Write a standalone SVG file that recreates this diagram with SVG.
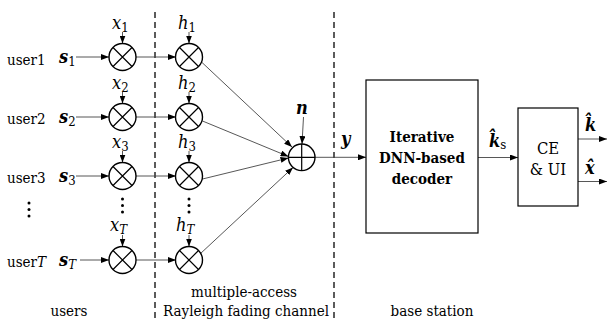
<svg xmlns="http://www.w3.org/2000/svg" width="609" height="320" viewBox="0 0 609 320">
<style>
text{font-family:"DejaVu Serif",serif;font-stretch:condensed;font-size:15px;fill:#000}
.m{font-style:italic;font-size:18px}
.b{font-weight:bold;font-style:italic;font-size:18px}
.sub{font-size:13px;font-style:normal;font-weight:normal}
.c{fill:#fff;stroke:#000;stroke-width:1.4}
.x{stroke:#000;stroke-width:1.2;fill:none}
.ln{stroke:#444;stroke-width:0.9;fill:none}
.dash{stroke:#333;stroke-width:1.6;stroke-dasharray:6,4;fill:none}
.box{fill:#fff;stroke:#000;stroke-width:1.2}
.bold{font-weight:bold}
.big{font-size:16.5px}
</style>
<defs>
<marker id="ar" viewBox="0 0 8 6" refX="8" refY="3" markerWidth="8" markerHeight="6" markerUnits="userSpaceOnUse" orient="auto">
<path d="M0,0 L8,3 L0,6 z" fill="#000"/>
</marker>
</defs>
<rect width="609" height="320" fill="#fff"/>
<g id="dividers">
<line class="dash" x1="155" y1="12" x2="155" y2="320"/>
<line class="dash" x1="334" y1="12" x2="334" y2="320"/>
</g>
<g id="connectors">
<line class="ln" x1="76" y1="57" x2="109" y2="57" marker-end="url(#ar)"/>
<line class="ln" x1="76" y1="117" x2="109" y2="117" marker-end="url(#ar)"/>
<line class="ln" x1="76" y1="176" x2="109" y2="176" marker-end="url(#ar)"/>
<line class="ln" x1="80" y1="260" x2="109" y2="260" marker-end="url(#ar)"/>
<line class="ln" x1="136" y1="57" x2="176" y2="57" marker-end="url(#ar)"/>
<line class="ln" x1="136" y1="117" x2="176" y2="117" marker-end="url(#ar)"/>
<line class="ln" x1="136" y1="176" x2="176" y2="176" marker-end="url(#ar)"/>
<line class="ln" x1="136" y1="260" x2="176" y2="260" marker-end="url(#ar)"/>
<line class="ln" x1="122.5" y1="32" x2="122.5" y2="43.5" marker-end="url(#ar)"/>
<line class="ln" x1="122.5" y1="92" x2="122.5" y2="103.5" marker-end="url(#ar)"/>
<line class="ln" x1="122.5" y1="151" x2="122.5" y2="162.5" marker-end="url(#ar)"/>
<line class="ln" x1="122.5" y1="235" x2="122.5" y2="246.5" marker-end="url(#ar)"/>
<line class="ln" x1="189" y1="32" x2="189" y2="43.5" marker-end="url(#ar)"/>
<line class="ln" x1="189" y1="92" x2="189" y2="103.5" marker-end="url(#ar)"/>
<line class="ln" x1="189" y1="151" x2="189" y2="162.5" marker-end="url(#ar)"/>
<line class="ln" x1="189" y1="235" x2="189" y2="246.5" marker-end="url(#ar)"/>
<line class="ln" x1="201.5" y1="62" x2="292" y2="147" marker-end="url(#ar)"/>
<line class="ln" x1="202.5" y1="121" x2="288.5" y2="156.5" marker-end="url(#ar)"/>
<line class="ln" x1="202.5" y1="179" x2="288.5" y2="158" marker-end="url(#ar)"/>
<line class="ln" x1="200" y1="254" x2="293" y2="167.5" marker-end="url(#ar)"/>
<line class="ln" x1="303.5" y1="117" x2="302" y2="144" marker-end="url(#ar)"/>
<line class="ln" x1="315" y1="157.3" x2="366" y2="157.3" marker-end="url(#ar)"/>
<line class="ln" x1="478" y1="157.5" x2="518" y2="157.5" marker-end="url(#ar)"/>
<line class="ln" x1="578" y1="139" x2="607" y2="139" marker-end="url(#ar)"/>
<line class="ln" x1="578" y1="181.5" x2="607" y2="181.5" marker-end="url(#ar)"/>
</g>
<g id="users">
<text x="7" y="65">user1</text>
<text x="7" y="124">user2</text>
<text x="7" y="183">user3</text>
<text x="7" y="267">user<tspan style="font-style:italic">T</tspan></text>
<g fill="#000"><circle cx="29" cy="203" r="1.5"/><circle cx="29" cy="209.5" r="1.5"/><circle cx="29" cy="216" r="1.5"/></g>
<text class="b" x="59" y="63">s<tspan class="sub" dy="3">1</tspan></text>
<text class="b" x="59" y="123">s<tspan class="sub" dy="3">2</tspan></text>
<text class="b" x="59" y="182">s<tspan class="sub" dy="3">3</tspan></text>
<text class="b" x="59" y="266">s<tspan class="sub" style="font-style:italic" dy="3">T</tspan></text>
</g>
<g id="mult-x">
<g id="mx1"><circle class="c" cx="122.5" cy="57" r="13.5"/><path class="x" d="M113,47.5 L132,66.5 M132,47.5 L113,66.5"/></g>
<g id="mx2"><circle class="c" cx="122.5" cy="117" r="13.5"/><path class="x" d="M113,107.5 L132,126.5 M132,107.5 L113,126.5"/></g>
<g id="mx3"><circle class="c" cx="122.5" cy="176" r="13.5"/><path class="x" d="M113,166.5 L132,185.5 M132,166.5 L113,185.5"/></g>
<g id="mxT"><circle class="c" cx="122.5" cy="260" r="13.5"/><path class="x" d="M113,250.5 L132,269.5 M132,250.5 L113,269.5"/></g>
<g fill="#000"><circle cx="122.5" cy="199" r="1.5"/><circle cx="122.5" cy="205.5" r="1.5"/><circle cx="122.5" cy="212" r="1.5"/></g>
<text class="m" x="112" y="29">x<tspan class="sub" dy="3">1</tspan></text>
<text class="m" x="112" y="89">x<tspan class="sub" dy="3">2</tspan></text>
<text class="m" x="112" y="148">x<tspan class="sub" dy="3">3</tspan></text>
<text class="m" x="110" y="231">x<tspan class="sub" style="font-style:italic" dy="3">T</tspan></text>
</g>
<g id="mult-h">
<g id="mh1"><circle class="c" cx="189" cy="57" r="13.5"/><path class="x" d="M179.5,47.5 L198.5,66.5 M198.5,47.5 L179.5,66.5"/></g>
<g id="mh2"><circle class="c" cx="189" cy="117" r="13.5"/><path class="x" d="M179.5,107.5 L198.5,126.5 M198.5,107.5 L179.5,126.5"/></g>
<g id="mh3"><circle class="c" cx="189" cy="176" r="13.5"/><path class="x" d="M179.5,166.5 L198.5,185.5 M198.5,166.5 L179.5,185.5"/></g>
<g id="mhT"><circle class="c" cx="189" cy="260" r="13.5"/><path class="x" d="M179.5,250.5 L198.5,269.5 M198.5,250.5 L179.5,269.5"/></g>
<g fill="#000"><circle cx="189" cy="199" r="1.5"/><circle cx="189" cy="205.5" r="1.5"/><circle cx="189" cy="212" r="1.5"/></g>
<text class="m" x="178" y="29">h<tspan class="sub" dy="3">1</tspan></text>
<text class="m" x="178" y="89">h<tspan class="sub" dy="3">2</tspan></text>
<text class="m" x="178" y="148">h<tspan class="sub" dy="3">3</tspan></text>
<text class="m" x="176" y="231">h<tspan class="sub" style="font-style:italic" dy="3">T</tspan></text>
</g>
<g id="sum">
<circle class="c" cx="301.7" cy="157.3" r="13.3"/>
<path class="x" d="M288.4,157.3 H315 M301.7,144 V170.6"/>
<text class="b" x="296" y="114">n</text>
<text class="b" x="341" y="145">y</text>
</g>
<g id="decoder">
<rect class="box" x="366" y="80" width="112" height="153"/>
<text class="bold" x="422" y="142" text-anchor="middle">Iterative</text>
<text class="bold" x="422" y="163" text-anchor="middle">DNN-based</text>
<text class="bold" x="422" y="184" text-anchor="middle">decoder</text>
<text class="b" x="489" y="147">k̂<tspan class="sub" dy="2">s</tspan></text>
</g>
<g id="ceui">
<rect class="box" x="518" y="108" width="60" height="98"/>
<text class="big" x="548" y="154" text-anchor="middle">CE</text>
<text class="big" x="548" y="175" text-anchor="middle">&amp; UI</text>
<text class="b" x="585" y="131">k̂</text>
<text class="b" x="585" y="174">x̂</text>
</g>
<g id="labels">
<text x="69" y="316" text-anchor="middle">users</text>
<text x="244" y="297" text-anchor="middle">multiple-access</text>
<text x="246" y="316" text-anchor="middle">Rayleigh fading channel</text>
<text x="432" y="316" text-anchor="middle">base station</text>
</g>
</svg>
